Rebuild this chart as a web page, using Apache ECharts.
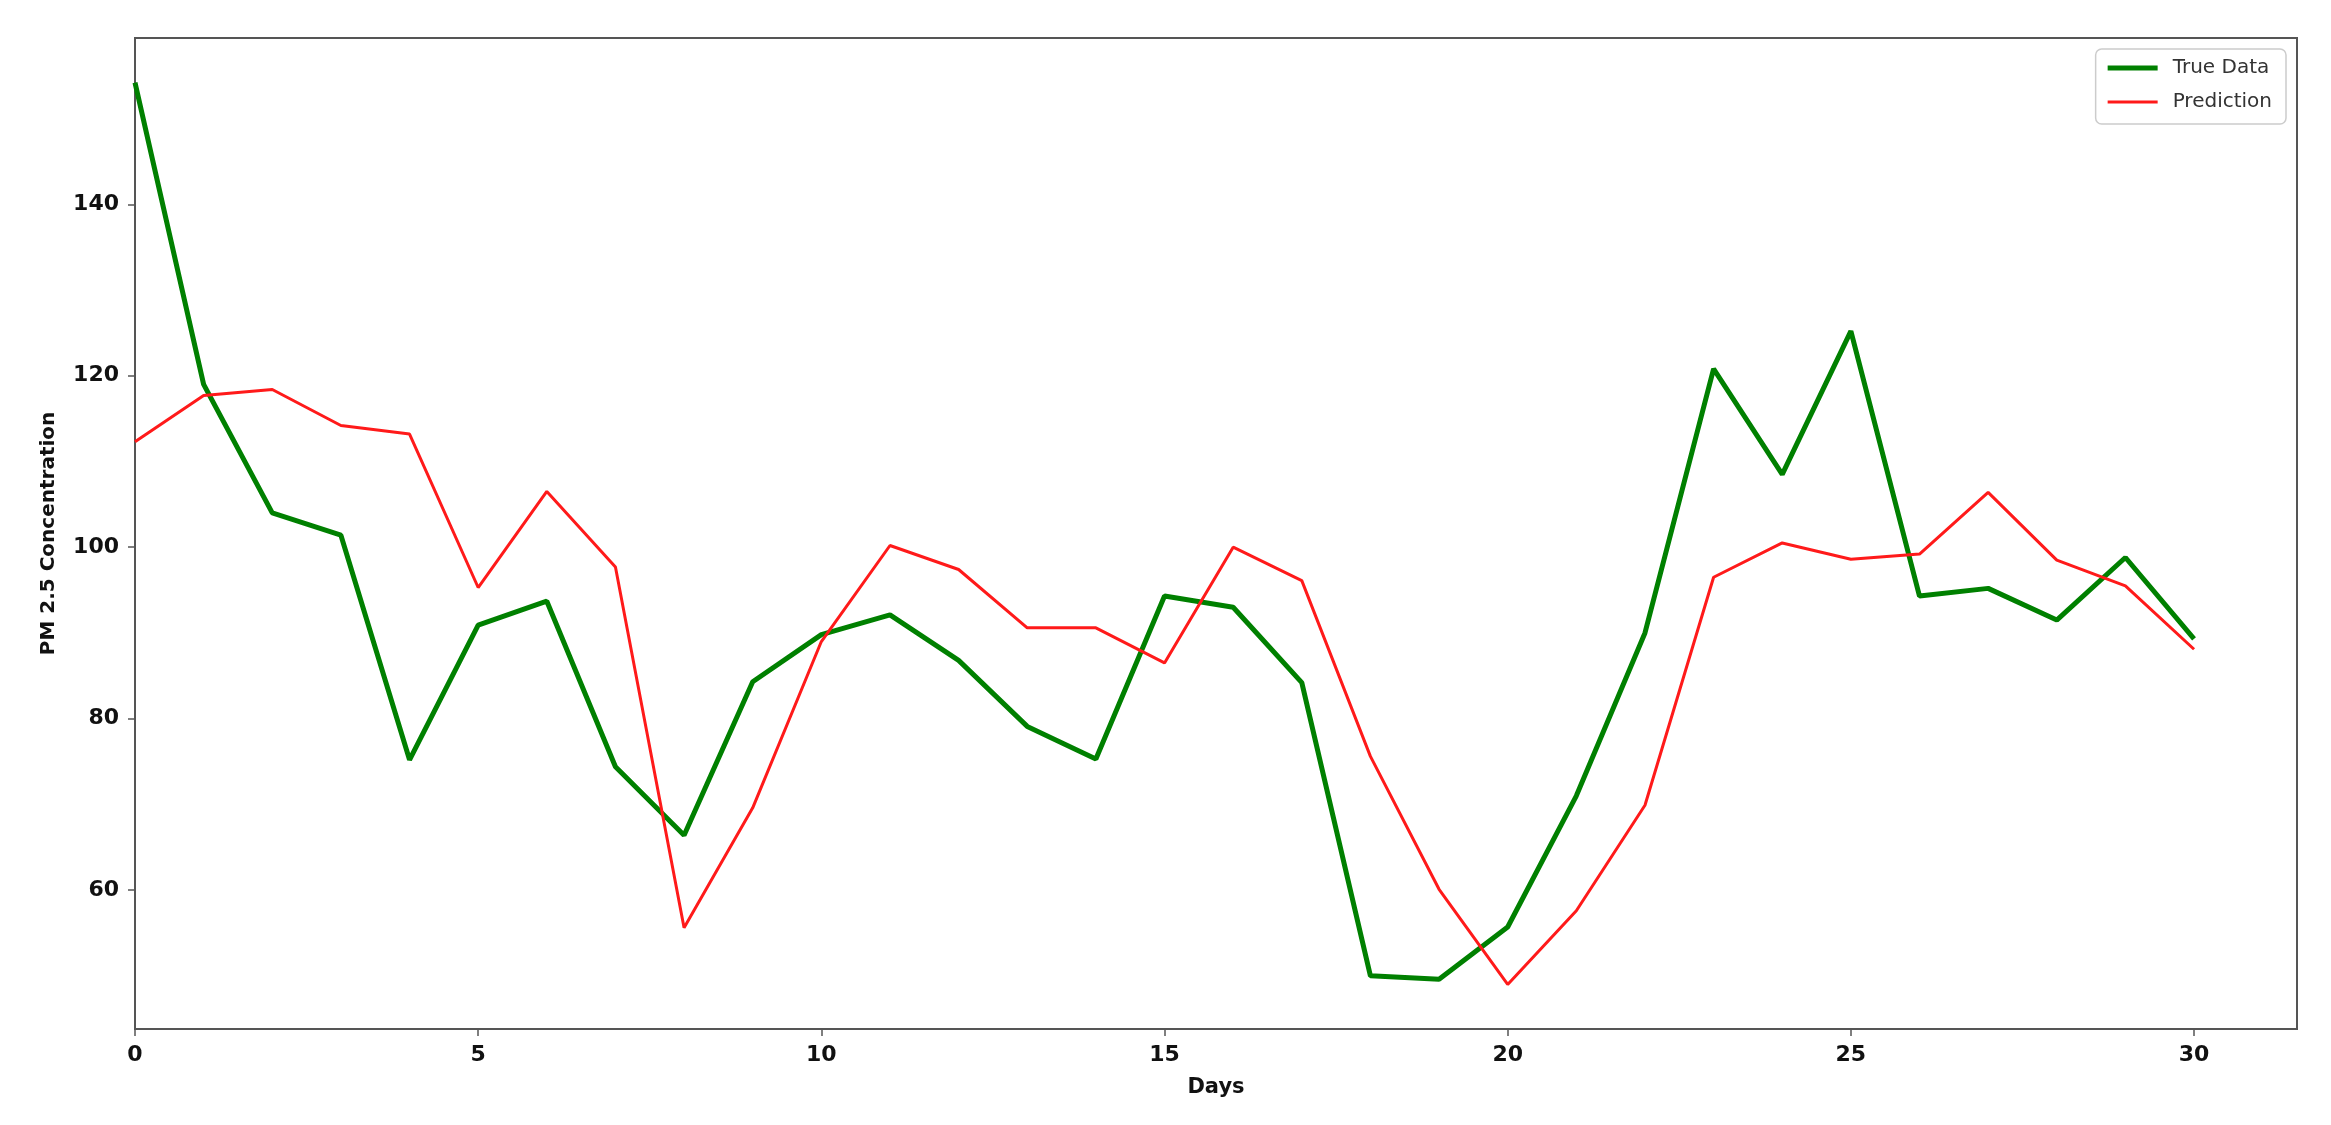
<!DOCTYPE html>
<html>
<head>
<meta charset="utf-8">
<script src="https://cdn.jsdelivr.net/npm/echarts@6/dist/echarts.min.js"></script>
<style>
html,body{margin:0;padding:0;background:#fff;}
#chart{width:2331px;height:1125px;}
</style>
</head>
<body>
<div id="chart"></div>
<script>
const days = [0,1,2,3,4,5,6,7,8,9,10,11,12,13,14,15,16,17,18,19,20,21,22,23,24,25,26,27,28,29,30];
const trueData = [154.2,119.0,104.0,101.4,75.2,90.9,93.7,74.4,66.4,84.3,89.8,92.1,86.8,79.1,75.3,94.3,93.0,84.2,50.0,49.6,55.7,71.0,90.0,120.8,108.5,125.2,94.3,95.2,91.5,98.8,89.3];
const prediction = [112.3,117.7,118.4,114.2,113.2,95.3,106.5,97.7,55.6,69.6,89.0,100.2,97.4,90.6,90.6,86.5,100.0,96.1,75.6,60.1,49.0,57.6,69.9,96.5,100.5,98.6,99.2,106.4,98.5,95.5,88.1];
const xTicks = [0,5,10,15,20,25,30];
const yTicks = [60,80,100,120,140];

const chart = echarts.init(document.getElementById('chart'));
const labelStyle = {color:'#111', fontFamily:'DejaVu Sans', fontWeight:'bold', fontSize:22};
const axisCol = '#555';
chart.setOption({
  animation:false,
  backgroundColor:'#fff',
  grid:{left:135, right:34, top:38, bottom:96, show:true, borderColor:axisCol, borderWidth:2},
  legend:{
    orient:'vertical', right:45, top:49,
    data:[
      {name:'True Data', icon:'path://M0,0H50V5H0Z'},
      {name:'Prediction', icon:'path://M0,0H50V3H0Z'}
    ],
    itemWidth:50, itemHeight:14, itemGap:14,
    padding:[9,14,12,12],
    borderColor:'#ccc', borderWidth:1.5, borderRadius:6,
    backgroundColor:'#fff',
    textStyle:{color:'#333', fontFamily:'DejaVu Sans', fontSize:20, padding:[0,0,0,10]}
  },
  xAxis:{
    type:'value', min:0, max:31.5,
    name:'Days', nameLocation:'middle', nameGap:48,
    nameTextStyle:Object.assign({}, labelStyle, {fontSize:21}),
    axisLine:{show:true, lineStyle:{color:axisCol, width:2}},
    axisTick:{show:true, length:7, lineStyle:{color:axisCol, width:1.5}, customValues:xTicks},
    axisLabel:Object.assign({margin:15, customValues:xTicks}, labelStyle),
    splitLine:{show:false}
  },
  yAxis:{
    type:'value', min:43.8, max:159.4,
    name:'PM 2.5 Concentration', nameLocation:'middle', nameGap:76, nameRotate:90,
    nameTextStyle:Object.assign({}, labelStyle, {fontSize:20}),
    axisLine:{show:true, lineStyle:{color:axisCol, width:2}},
    axisTick:{show:true, length:7, lineStyle:{color:axisCol, width:1.5}, customValues:yTicks},
    axisLabel:Object.assign({margin:16, customValues:yTicks}, labelStyle),
    splitLine:{show:false}
  },
  series:[
    {name:'True Data', type:'line', symbol:'none', data:days.map((d,i)=>[d,trueData[i]]),
     lineStyle:{color:'#008000', width:5}, itemStyle:{color:'#008000'}},
    {name:'Prediction', type:'line', symbol:'none', data:days.map((d,i)=>[d,prediction[i]]),
     lineStyle:{color:'#ff1a1a', width:3}, itemStyle:{color:'#ff1a1a'}}
  ]
});
</script>
</body>
</html>
